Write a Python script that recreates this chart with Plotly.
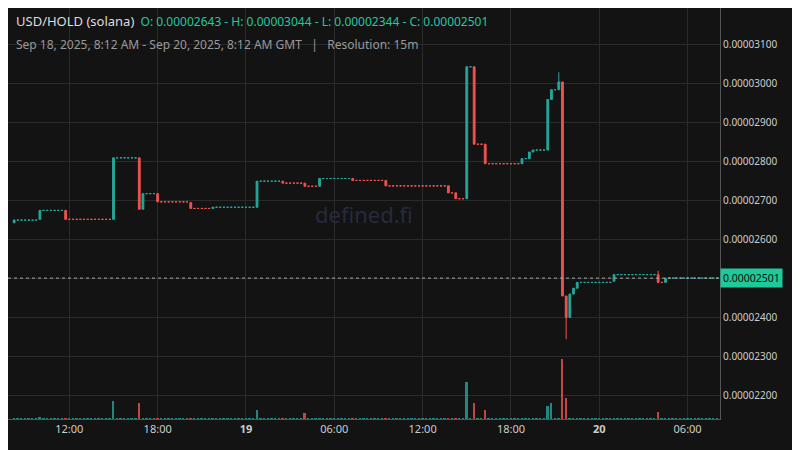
import pandas as pd
import plotly.graph_objects as go

# Price events (time, open, high, low, close) in units of 1e-8; flat candles hold last close
ev_time = ["2025-09-18 08:15","2025-09-18 10:00","2025-09-18 11:45","2025-09-18 15:00","2025-09-18 16:45",
           "2025-09-18 17:00","2025-09-18 18:00","2025-09-18 20:15","2025-09-18 21:45","2025-09-19 00:45",
           "2025-09-19 02:30","2025-09-19 04:00","2025-09-19 05:00","2025-09-19 07:15","2025-09-19 09:30",
           "2025-09-19 13:45","2025-09-19 14:15","2025-09-19 15:00","2025-09-19 15:30","2025-09-19 16:15",
           "2025-09-19 18:45","2025-09-19 19:15","2025-09-19 19:30","2025-09-19 20:30","2025-09-19 20:45",
           "2025-09-19 21:15","2025-09-19 21:30","2025-09-19 21:45","2025-09-19 22:00","2025-09-19 22:15",
           "2025-09-19 22:30","2025-09-20 01:00","2025-09-20 04:00","2025-09-20 04:30"]
ev_open  = [2643,2652,2675,2652,2810,2678,2718,2695,2680,2683,2750,2745,2737,2757,2752,2738,2720,2705,3044,2845,
            2795,2808,2825,2830,2960,2985,3005,2455,2400,2460,2475,2493,2510,2490]
ev_high  = [2652,2675,2675,2810,2810,2718,2718,2695,2683,2750,2750,2745,2757,2757,2752,2738,2720,3044,3044,2845,
            2808,2825,2830,2960,2985,3030,3005,2455,2460,2475,2490,2510,2520,2501]
ev_low   = [2643,2652,2652,2652,2678,2678,2697,2680,2680,2683,2745,2737,2737,2752,2738,2720,2705,2705,2845,2795,
            2795,2808,2825,2830,2960,2985,2455,2344,2400,2460,2475,2493,2490,2490]
ev_close = [2650,2675,2652,2810,2678,2718,2697,2680,2683,2750,2745,2737,2757,2752,2738,2720,2705,3044,2845,2795,
            2808,2825,2830,2960,2985,3005,2455,2400,2460,2475,2490,2510,2490,2501]
vol_time = ["2025-09-18 10:00","2025-09-18 15:00","2025-09-18 16:45","2025-09-19 00:45","2025-09-19 04:00",
            "2025-09-19 15:00","2025-09-19 15:30","2025-09-19 16:15","2025-09-19 20:30","2025-09-19 20:45",
            "2025-09-19 21:30","2025-09-19 21:45","2025-09-20 04:00"]
vol_val  = [2,18,16,9,6,36,16,9,13,16,59,21,7]
base_vol = 0.8

times = pd.date_range("2025-09-18 08:15", "2025-09-20 08:00", freq="15min")
evmap = {pd.Timestamp(t): (o, h, l, c) for t, o, h, l, c in zip(ev_time, ev_open, ev_high, ev_low, ev_close)}
vmap = {pd.Timestamp(t): v for t, v in zip(vol_time, vol_val)}
O, H, L, C, V, VC = [], [], [], [], [], []
last = ev_open[0]
for t in times:
    if t in evmap:
        o, h, l, c = evmap[t]
    else:
        o = h = l = c = last
    last = c
    O.append(o*1e-8); H.append(h*1e-8); L.append(l*1e-8); C.append(c*1e-8)
    V.append(vmap.get(t, base_vol))
    VC.append("#ef5350" if c < o else "#26a69a")

GREEN, RED = "#26a69a", "#ef5350"
fig = go.Figure()
fig.add_trace(go.Bar(x=times, y=V, marker_color=VC, marker_line_width=0, opacity=0.8,
                     yaxis="y2", showlegend=False, width=15*60*1000*0.5))
fig.add_trace(go.Candlestick(x=times, open=O, high=H, low=L, close=C,
                             increasing=dict(line=dict(color=GREEN, width=1), fillcolor=GREEN),
                             decreasing=dict(line=dict(color=RED, width=1), fillcolor=RED),
                             whiskerwidth=0, showlegend=False))
last_close = C[-1]
fig.add_shape(type="line", xref="paper", x0=0, x1=1, y0=last_close, y1=last_close,
              line=dict(color="#aaaaaa", width=1, dash="dot"))

tickvals = ["2025-09-18 12:00","2025-09-18 18:00","2025-09-19 00:00","2025-09-19 06:00",
            "2025-09-19 12:00","2025-09-19 18:00","2025-09-20 00:00","2025-09-20 06:00"]
ticktext = ["12:00","18:00","<b>19</b>","06:00","12:00","18:00","<b>20</b>","06:00"]
ytick = [i*1e-7 for i in range(220, 320, 10)]

fig.update_layout(
    width=800, height=450, margin=dict(l=0, r=88, t=0, b=39, autoexpand=False),
    paper_bgcolor="#131313", plot_bgcolor="#131313",
    font=dict(family="Noto Sans", color="#cccccc", size=11),
    xaxis=dict(range=["2025-09-18 07:50", "2025-09-20 08:12"], rangeslider=dict(visible=False),
               tickvals=tickvals, ticktext=ticktext, showgrid=True, gridcolor="#2a2a2a", automargin=False,
               showline=True, linecolor="#555", ticks="", tickfont=dict(size=11, color="#cccccc")),
    yaxis=dict(side="right", range=[2.139e-5, 3.195e-5], tickvals=ytick, automargin=False,
               ticktext=[f"{v:.8f}" for v in ytick], gridcolor="#2a2a2a", showline=True,
               linecolor="#555", tickfont=dict(size=10, color="#cccccc"), zeroline=False),
    yaxis2=dict(overlaying="y", range=[0, 59*411/60], visible=False),
    bargap=0,
    annotations=[
        dict(xref="paper", yref="paper", x=0.5, y=0.5, text="defined.fi", showarrow=False,
             font=dict(size=22, color="#262a40")),
        dict(xref="paper", yref="paper", x=0.0, y=1.0, xanchor="left", yanchor="top", showarrow=False,
             xshift=6, yshift=-2, align="left",
             text="<span style='color:#dddddd;font-size:13px'>USD/HOLD (solana)</span>"
                  "<span style='color:#26c6a0;font-size:12px'>  O: 0.00002643 - H: 0.00003044 - L: 0.00002344 - C: 0.00002501</span>"),
        dict(xref="paper", yref="paper", x=0.0, y=1.0, xanchor="left", yanchor="top", showarrow=False,
             xshift=6, yshift=-26, font=dict(size=12, color="#999999"),
             text="Sep 18, 2025, 8:12 AM - Sep 20, 2025, 8:12 AM GMT   |   Resolution: 15m"),
        dict(xref="paper", yref="y", x=1.0, y=last_close, xanchor="left", showarrow=False,
             text=f"{last_close:.8f}", bgcolor="#1ec99a", font=dict(color="#0b0b0b", size=10.5),
             borderpad=2, xshift=0),
    ],
)
fig.write_html("out.html")
